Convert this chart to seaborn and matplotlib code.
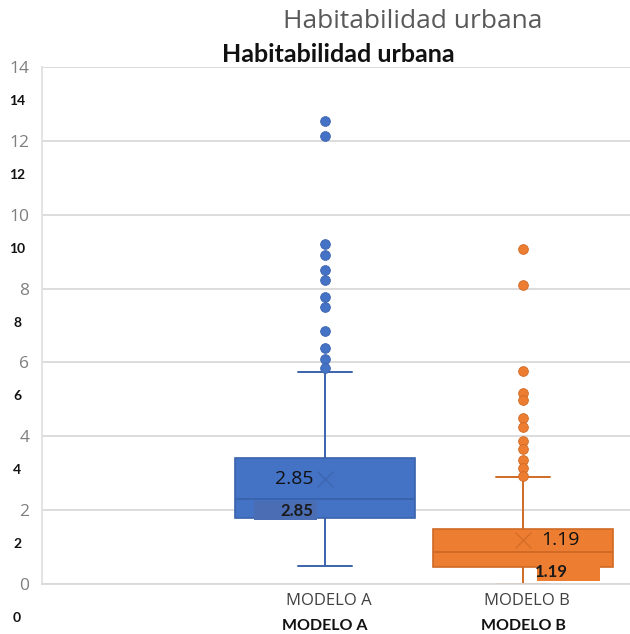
import matplotlib
matplotlib.use("Agg")
import matplotlib.pyplot as plt
import seaborn as sns
from matplotlib.patches import Rectangle

# Summary values
modelos = ["MODELO A", "MODELO B"]
medianas = [2.30, 0.87]
q1 = [1.78, 0.45]
q3 = [3.40, 1.48]
bigote_inf = [0.49, 0.00]
bigote_sup = [5.73, 2.89]
medias = [2.85, 1.19]
atipicos_a = [12.54, 12.12, 9.22, 8.92, 8.51, 8.24, 7.76, 7.49, 6.84, 6.38, 6.08, 5.84]
atipicos_b = [9.07, 8.11, 5.76, 5.17, 4.97, 4.49, 4.25, 3.86, 3.65, 3.35, 3.14, 2.92]
ticks_y = [0, 2, 4, 6, 8, 10, 12, 14]

COLORES = ["#4472C4", "#ED7D31"]
BORDES = ["#3A63AD", "#D06A25"]
PARCHES = ["#4A6DB3", "#ED7D31"]

sns.set_theme(style="whitegrid")
plt.rcParams["font.family"] = ["Open Sans", "DejaVu Sans"]

fig = plt.figure(figsize=(6.3, 6.34), dpi=100)
ax = fig.add_axes([42 / 630, 50 / 634, 588 / 630, 517 / 634])

stats = []
for i, fl in enumerate([atipicos_a, atipicos_b]):
    stats.append(dict(med=medianas[i], q1=q1[i], q3=q3[i], whislo=bigote_inf[i],
                      whishi=bigote_sup[i], mean=medias[i], fliers=fl, label=modelos[i]))

for i, st in enumerate(stats):
    ax.bxp([st], positions=[i + 1], widths=0.91, patch_artist=True, showmeans=True,
           showfliers=True, manage_ticks=False,
           boxprops=dict(facecolor=COLORES[i], edgecolor=BORDES[i], linewidth=1.2),
           medianprops=dict(color=BORDES[i], linewidth=1.4),
           whiskerprops=dict(color=BORDES[i], linewidth=1.4),
           capprops=dict(color=BORDES[i], linewidth=1.4),
           capwidths=0.27,
           meanprops=dict(marker="x", markersize=12, markeredgecolor=BORDES[i],
                          markeredgewidth=1.0, alpha=0.8),
           flierprops=dict(marker="o", markersize=7, markerfacecolor=COLORES[i],
                           markeredgecolor=BORDES[i], markeredgewidth=0.6))

ax.set_xlim(-0.429, 2.54)
ax.set_ylim(0, 14)
ax.set_yticks(ticks_y)
ax.set_yticklabels([str(t) for t in ticks_y], color="#7F7F7F", fontsize=12.5)
ax.tick_params(axis="y", length=0, pad=9)
ax.set_xticks([])
ax.grid(axis="y", color="#D9D9D9", linewidth=1.3)
ax.grid(axis="x", visible=False)
ax.set_facecolor("white")
for s in ["top", "right"]:
    ax.spines[s].set_visible(False)
ax.spines["left"].set_color("#E0E0E0")
ax.spines["left"].set_linewidth(1.3)
ax.spines["bottom"].set_color("#D9D9D9")
ax.spines["bottom"].set_linewidth(1.3)

# duplicated bold tick labels slightly below the originals
for t in ticks_y:
    ax.text(-0.555, t - 0.92, str(t), ha="center", va="center", fontsize=10,
            fontweight="bold", color="#111111", family=["Lato", "DejaVu Sans"],
            clip_on=False)

# category labels
for i, m in enumerate(modelos):
    ax.text(i + 1.02, -0.45, m, ha="center", va="center", fontsize=12,
            color="#404040", clip_on=False)
for i, m in enumerate(modelos):
    ax.text(i + 1.0, -1.15, m, ha="center", va="center", fontsize=11.5,
            fontweight="bold", color="#111111", family=["Lato", "DejaVu Sans"],
            clip_on=False, bbox=dict(facecolor="white", edgecolor="none", pad=1.5))

# mean data labels
ax.text(1 - 0.06, medias[0], f"{medias[0]:.2f}", ha="right", va="center",
        fontsize=14, color="#111111")
ax.text(2 + 0.09, medias[1], f"{medias[1]:.2f}", ha="left", va="center",
        fontsize=14, color="#111111")

# bold overlay labels on patches
offs = [(-0.36, -0.04), (0.07, 0.39)]
for i, (a, b) in enumerate(offs):
    x0 = i + 1 + a
    ax.add_patch(Rectangle((x0, medias[i] - 1.12), b - a, 0.52,
                           facecolor=PARCHES[i], edgecolor="none", zorder=4))
tx = [1 - 0.14, 2 + 0.145]
for i in range(2):
    ax.text(tx[i], medias[i] - 0.86, f"{medias[i]:.2f}", ha="center", va="center",
            fontsize=12, fontweight="bold", color="#1A1A1A",
            family=["Lato", "DejaVu Sans"], zorder=5)

fig.text(413 / 630, 1 - 22 / 634, "Habitabilidad urbana", ha="center", va="center",
         fontsize=19, color="#595959")
fig.text(338 / 630, 1 - 55 / 634, "Habitabilidad urbana", ha="center", va="center",
         fontsize=18, fontweight="bold", color="#111111", family=["Lato", "DejaVu Sans"])

fig.savefig("out.png", dpi=100, facecolor="white")
